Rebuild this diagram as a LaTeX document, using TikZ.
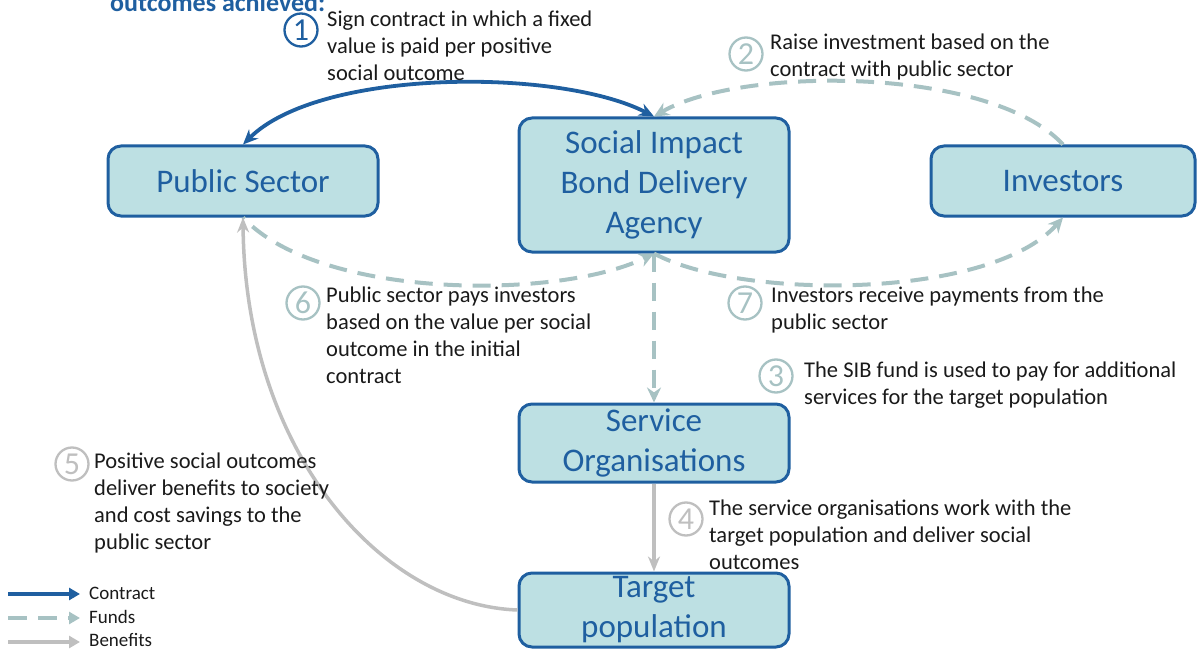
\documentclass[tikz,border=0pt]{standalone}
\usepackage{fontspec}
\setmainfont{Carlito}
\usetikzlibrary{arrows.meta}
\definecolor{sibblue}{HTML}{1F5FA0}
\definecolor{boxfill}{HTML}{BDE0E3}
\definecolor{fundc}{HTML}{A7C2C3}
\definecolor{benc}{HTML}{BFBFBF}
\definecolor{txt}{HTML}{1A1A1A}
\begin{document}
\begin{tikzpicture}[x=1pt,y=-1pt,
 entity/.style={draw=sibblue, line width=3pt, fill=boxfill, rounded corners=13pt, text=sibblue, font=\fontsize{33}{40}\selectfont, align=center, inner sep=0pt},
 note/.style={anchor=north west, inner sep=0pt, align=left, text=txt, font=\fontsize{22.5}{27}\selectfont},
 numc/.style={circle, draw, line width=2.3pt, minimum size=33pt, inner sep=0pt, font=\fontsize{32}{32}\selectfont},
 contract/.style={draw=sibblue, line width=3.8pt, {Stealth[length=15pt,width=13pt]}-{Stealth[length=15pt,width=13pt]}},
 funds/.style={draw=fundc, line width=4pt, dash pattern=on 18pt off 11pt, -{Stealth[length=15pt,width=14pt]}},
 benefit/.style={draw=benc, line width=3.5pt, -{Stealth[length=15pt,width=12pt]}},
 legtxt/.style={anchor=west, inner sep=0pt, text=txt, font=\fontsize{19}{23}\selectfont}
]
\useasboundingbox (0,0) rectangle (1197,650);
\clip (0,0) rectangle (1197,650);

% title (cut off at the top)
\node[anchor=base west, inner sep=0pt, text=sibblue, font=\bfseries\fontsize{26}{30}\selectfont] (title) at (110,12) {outcomes achieved:};

% boxes
\node[entity, minimum width=270pt, minimum height=70pt] (ps) at (243,181) {Public Sector};
\node[entity, minimum width=270pt, minimum height=134pt] (sib) at (654,185) {Social Impact\\Bond Delivery\\Agency};
\node[entity, minimum width=264pt, minimum height=70pt] (inv) at (1063,181) {Investors};
\node[entity, minimum width=270pt, minimum height=78pt] (so) at (654,443) {Service\\Organisations};
\node[entity, minimum width=270pt, minimum height=74pt] (tp) at (654,610) {Target\\population};

% connectors
\draw[contract] (sib.north) .. controls (560,68) and (320,68) .. (ps.north);
\draw[funds] (inv.north) .. controls (990,66) and (740,66) .. (sib.north);
\draw[funds, dash phase=16pt] (ps.south) .. controls (320,300) and (560,300) .. (sib.south);
\draw[funds] (sib.south) .. controls (740,300) and (990,300) .. (inv.south);
\draw[funds] (sib.south) -- (so.north);
\draw[benefit] (so.south) -- (tp.north);
\draw[benefit] (tp.west) .. controls (380,605) and (245,450) .. (ps.south);

% numbered circles
\node[numc, draw=sibblue, text=sibblue] (n1) at (301,30) {1};
\node[numc, draw=fundc, text=fundc] (n2) at (746,54) {2};
\node[numc, draw=fundc, text=fundc] (n3) at (776,376) {3};
\node[numc, draw=benc, text=benc] (n4) at (686,519) {4};
\node[numc, draw=benc, text=benc] (n5) at (72,464) {5};
\node[numc, draw=fundc, text=fundc] (n6) at (303,303) {6};
\node[numc, draw=fundc, text=fundc] (n7) at (745,303) {7};

% annotations
\node[note] (t1) at (327,11) {Sign contract in which a fixed\\value is paid per positive\\social outcome};
\node[note] (t2) at (770,34) {Raise investment based on the\\contract with public sector};
\node[note] (t6) at (326,287) {Public sector pays investors\\based on the value per social\\outcome in the initial\\contract};
\node[note] (t7) at (771,287) {Investors receive payments from the\\public sector};
\node[note] (t3) at (804,362) {The SIB fund is used to pay for additional\\services for the target population};
\node[note] (t4) at (709,500) {The service organisations work with the\\target population and deliver social\\outcomes};
\node[note] (t5) at (94,453) {Positive social outcomes\\deliver benefits to society\\and cost savings to the\\public sector};

% legend
\coordinate (l1a) at (8,594); \coordinate (l1b) at (80,594);
\coordinate (l2a) at (8,618); \coordinate (l2b) at (80,618);
\coordinate (l3a) at (8,642); \coordinate (l3b) at (80,642);
\draw[draw=sibblue, line width=3.5pt, -{Triangle[length=11pt,width=12pt]}] (l1a) -- (l1b);
\draw[draw=fundc, line width=4pt, dash pattern=on 19pt off 11pt, -{Triangle[length=11pt,width=12pt]}] (l2a) -- (l2b);
\draw[draw=benc, line width=3.5pt, -{Triangle[length=11pt,width=12pt]}] (l3a) -- (l3b);
\node[legtxt] (lg1) at (89,593) {Contract};
\node[legtxt] (lg2) at (89,617) {Funds};
\node[legtxt] (lg3) at (89,640) {Benefits};
\end{tikzpicture}
\end{document}
